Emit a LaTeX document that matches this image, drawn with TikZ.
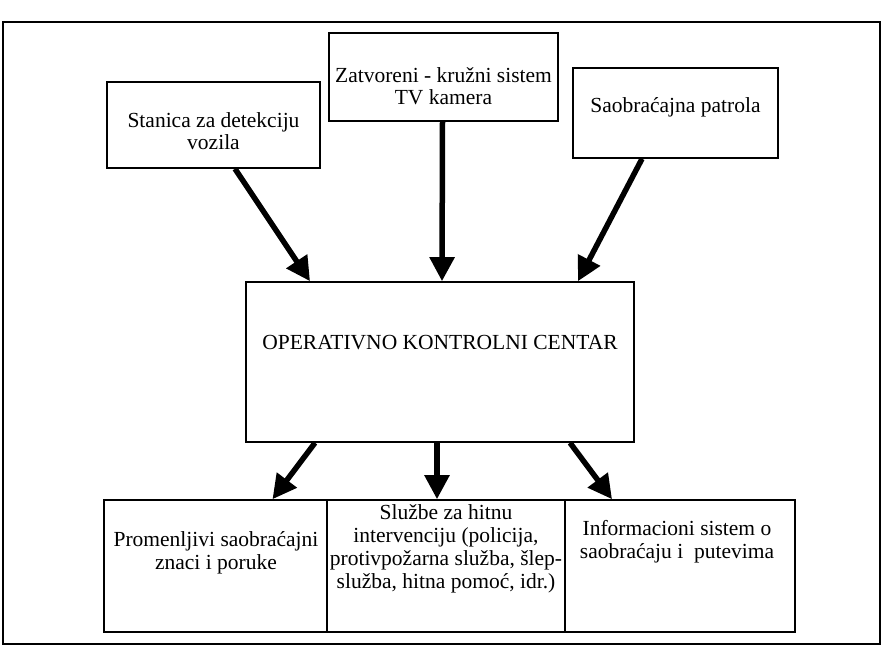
\documentclass[tikz,border=0pt]{standalone}
\usepackage{fontspec}
\setmainfont{Liberation Serif}
\usetikzlibrary{arrows.meta}
\begin{document}
\begin{tikzpicture}[x=1pt,y=-1pt,
  box/.style={draw=black,line width=1.6pt,rectangle,inner sep=0pt},
  txt/.style={align=center,inner sep=0pt,font=\fontsize{21.5}{#1}\selectfont},
  txt/.default=23,
  arr/.style={line width=5.5pt,-{Triangle[length=24pt,width=24pt]}},
  frameline/.style={draw=black,line width=1.5pt}]
\useasboundingbox (0,0) rectangle (884,654);
\draw[frameline] (3,22) rectangle (880,644);
% top boxes
\node[box,minimum width=213pt,minimum height=86pt] (stan) at (213.5,125) {};
\node[txt=22] (stanT) at (213.5,131) {Stanica za detekciju\\vozila};
\node[box,minimum width=229pt,minimum height=88pt] (zat) at (443.5,77) {};
\node[txt=22] (zatT) at (443.5,86) {Zatvoreni - kružni sistem\\TV kamera};
\node[box,minimum width=205pt,minimum height=90pt] (pat) at (675.5,113) {};
\node[txt] (patT) at (675.5,107) {Saobraćajna patrola};
% main
\node[box,minimum width=388pt,minimum height=160pt] (main) at (440,362) {};
\node[txt] (mainT) at (440,343) {OPERATIVNO KONTROLNI CENTAR};
% bottom boxes
\node[box,minimum width=223pt,minimum height=132pt] (bl) at (215.5,566) {};
\node[txt] (blT) at (216,553) {Promenljivi saobraćajni\\znaci i poruke};
\node[box,minimum width=238pt,minimum height=132pt] (bm) at (446,566) {};
\node[txt] (bmT) at (446,549) {Službe za hitnu\\intervenciju (policija,\\protivpožarna služba, šlep-\\služba, hitna pomoć, idr.)};
\node[box,minimum width=230pt,minimum height=132pt] (br) at (680,566) {};
\node[txt] (brT) at (677,542) {Informacioni sistem o\\saobraćaju i\ \ putevima};
% arrows in
\draw[arr] ([xshift=21.5pt]stan.south) -- ([xshift=-130pt]main.north);
\draw[arr] ([xshift=-1pt]zat.south) -- ([xshift=2pt]main.north);
\draw[arr] ([xshift=-33.5pt]pat.south) -- ([xshift=138pt]main.north);
% arrows out
\draw[arr] ([xshift=-125pt]main.south) -- ([xshift=57pt]bl.north);
\draw[arr] ([xshift=-3pt]main.south) -- ([xshift=-3pt]main.south |- bm.north);
\draw[arr] ([xshift=130pt]main.south) -- ([xshift=-68pt]br.north);
\end{tikzpicture}
\end{document}
